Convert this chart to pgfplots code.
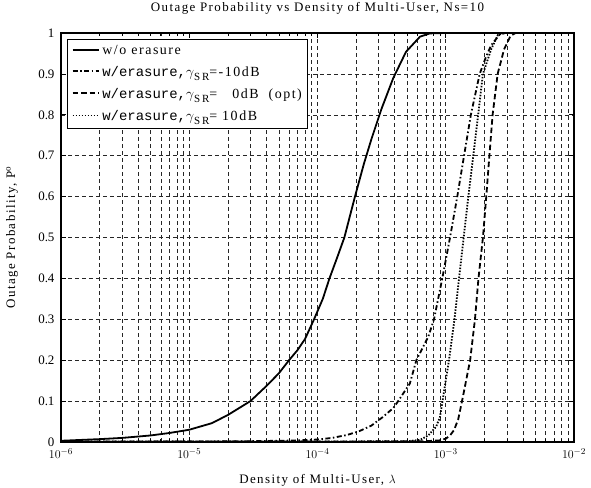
\documentclass[border=0pt]{standalone}
\usepackage{fontspec}
\setmainfont{Liberation Serif}
\newfontfamily\labelfont[LetterSpace=11]{Liberation Serif}
\newfontfamily\monofont{Liberation Mono}
\usepackage{pgfplots}
\pgfplotsset{compat=1.18}
\usetikzlibrary{calc}
\newcommand{\fs}{\fontsize{13}{15}\selectfont}
\newcommand{\lf}{\fontsize{13}{15}\labelfont}
\newcommand{\legf}{\fontsize{14}{16}\labelfont}
\newcommand{\gsr}{$\gamma$\raisebox{-4bp}{\fontsize{11}{11}\labelfont S\,R}}

% solid: w/o erasure
\pgfplotstableread{
x y
1e-6 0.003
2e-6 0.007
3e-6 0.010
5e-6 0.016
7e-6 0.022
1e-5 0.030
1.5e-5 0.046
2e-5 0.066
3e-5 0.100
4e-5 0.137
5e-5 0.168
6e-5 0.200
7e-5 0.225
8e-5 0.252
9.4e-5 0.300
1.1e-4 0.350
1.24e-4 0.400
1.42e-4 0.450
1.62e-4 0.500
1.96e-4 0.600
2.3e-4 0.680
2.63e-4 0.740
3.16e-4 0.815
3.9e-4 0.890
4.9e-4 0.954
6.3e-4 0.991
7.5e-4 0.999
1e-3 1
1e-2 1
}\noerasure

% dash-dot: -10dB
\pgfplotstableread{
x y
1e-6 0.0005
1e-5 0.001
3e-5 0.002
5e-5 0.003
7e-5 0.004
1e-4 0.006
1.3e-4 0.010
1.69e-4 0.017
2.1e-4 0.026
2.63e-4 0.040
3.2e-4 0.060
3.9e-4 0.083
4.3e-4 0.102
5.25e-4 0.143
5.9e-4 0.200
7.3e-4 0.257
8.1e-4 0.300
9.4e-4 0.400
1.08e-3 0.500
1.23e-3 0.600
1.39e-3 0.700
1.57e-3 0.800
1.84e-3 0.900
2.05e-3 0.940
2.26e-3 0.970
2.61e-3 0.995
2.9e-3 1
1e-2 1
}\mten

% dashed: 0dB (opt)
\pgfplotstableread{
x y
1e-6 0.001
1e-4 0.001
7e-4 0.002
9e-4 0.004
1e-3 0.008
1.08e-3 0.016
1.16e-3 0.029
1.25e-3 0.055
1.34e-3 0.100
1.55e-3 0.200
1.69e-3 0.300
1.80e-3 0.400
1.95e-3 0.500
2.07e-3 0.600
2.19e-3 0.700
2.32e-3 0.800
2.54e-3 0.900
2.85e-3 0.960
3.2e-3 0.993
3.5e-3 1
1e-2 1
}\zero

% dotted: 10dB
\pgfplotstableread{
x y
1e-6 0.001
1e-4 0.001
5e-4 0.002
6.3e-4 0.005
7.3e-4 0.016
8.4e-4 0.037
9.0e-4 0.060
9.44e-4 0.100
1.0e-3 0.150
1.06e-3 0.200
1.17e-3 0.300
1.27e-3 0.400
1.38e-3 0.500
1.50e-3 0.600
1.64e-3 0.700
1.79e-3 0.800
1.95e-3 0.900
2.26e-3 0.960
2.55e-3 0.995
2.8e-3 1
1e-2 1
}\pten

\begin{document}
\fs
\begin{tikzpicture}[font=\fs]
\begin{semilogxaxis}[
  scale only axis,
  width=513bp, height=409bp,
  xmin=1e-6, xmax=1e-2, ymin=0, ymax=1,
  xtick={1e-6,1e-5,1e-4,1e-3,1e-2},
  ytick={0,0.1,0.2,0.3,0.4,0.5,0.6,0.7,0.8,0.9,1},
  tick label style={font=\fs},
  yticklabel style={/pgf/number format/fixed, /pgf/number format/precision=1,
    /pgf/number format/assume math mode=true, xshift=-2bp},
  xticklabel style={yshift=-2bp},
  tick align=inside,
  major tick length=5bp, minor tick length=3bp,
  tick style={black, line width=0.6bp},
  grid=both,
  major grid style={black!85, line width=0.5bp, dash pattern=on 4bp off 3bp},
  minor grid style={black!85, line width=0.5bp, dash pattern=on 4bp off 3bp},
  axis line style={line width=1.3bp},
  title={Outage Probability vs Density of Multi-User, Ns=10},
  title style={font=\lf, at={(axis description cs:0.5,1)}, anchor=center, yshift=19bp},
  xlabel={Density of Multi-User, $\lambda$},
  xlabel style={font=\lf, at={(axis description cs:0.5,0)}, anchor=center, yshift=-38bp},
  ylabel={Outage Probability, P$^{\mathrm{o}}$},
  ylabel style={font=\lf, at={(axis description cs:0,0.5)}, anchor=center, yshift=49bp},
  legend style={font=\legf, at={(axis description cs:0.012,0.985)}, anchor=north west,
    draw=black, line width=1bp, fill=white, cells={anchor=west},
    inner sep=4bp, row sep=6bp},
  legend image post style={line width=1.8bp},
  legend image code/.code={\draw[#1] (0cm,0.05cm) -- (0.95cm,0.05cm);},
]
\addplot[black, line width=1.8bp] table[x=x,y=y] {\noerasure};
\addlegendentry{w/o erasure}
\addplot[black, line width=1.8bp, dash pattern=on 5bp off 2.5bp on 1.5bp off 2.5bp] table[x=x,y=y] {\mten};
\addlegendentry{{\monofont w/erasure,}\gsr=-10dB}
\addplot[black, line width=1.8bp, dash pattern=on 5.5bp off 3bp] table[x=x,y=y] {\zero};
\addlegendentry{{\monofont w/erasure,}\gsr=\ \ \ 0dB\ \ (opt)}
\addplot[black, line width=1.8bp, dash pattern=on 1.5bp off 1.5bp] table[x=x,y=y] {\pten};
\addlegendentry{{\monofont w/erasure,}\gsr= 10dB}
\end{semilogxaxis}
\pgfresetboundingbox
\path ($(current axis.south west)+(-61bp,-46bp)$) rectangle ($(current axis.south west)+(530bp,442bp)$);
\end{tikzpicture}
\end{document}
